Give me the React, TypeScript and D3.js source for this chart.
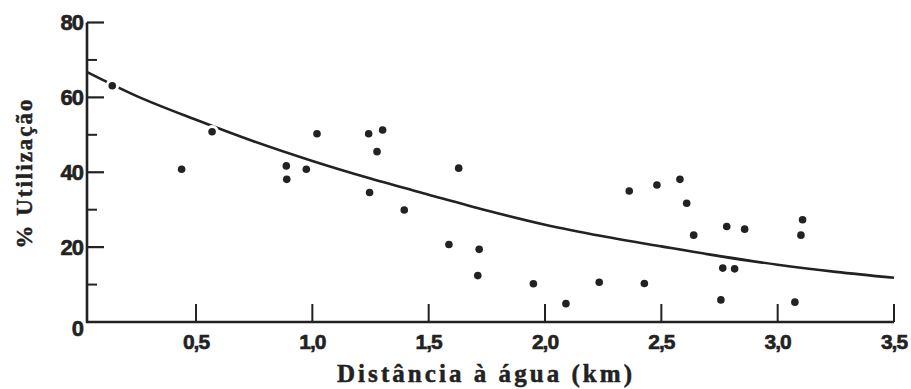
import React from "react";
import * as d3 from "d3";

// Scatter observations: distance to water (km) and % utilisation
const pointX = [
  0.14, 0.438, 0.569, 0.888, 0.89, 0.974, 1.02, 1.242, 1.302, 1.278, 1.246, 1.395,
  1.629, 1.587, 1.717, 1.711, 1.95, 2.09, 2.233, 2.427, 2.362, 2.481, 2.58, 2.609,
  2.639, 2.781, 2.858, 2.764, 2.815, 2.756, 3.074, 3.107, 3.1,
];
const pointY = [
  63.1, 40.8, 50.8, 41.7, 38.1, 40.8, 50.3, 50.3, 51.3, 45.5, 34.6, 29.9,
  41.1, 20.7, 19.4, 12.4, 10.2, 4.9, 10.6, 10.3, 35.0, 36.6, 38.1, 31.7,
  23.2, 25.5, 24.8, 14.4, 14.2, 5.9, 5.3, 27.3, 23.2,
];

// Fitted curve
const curveX = [0.03, 0.25, 0.5, 0.75, 1.0, 1.25, 1.5, 1.75, 2.0, 2.25, 2.5, 2.75, 3.0, 3.25, 3.5];
const curveY = [66.8, 60.2, 54.0, 48.2, 43.0, 38.3, 34.0, 29.8, 26.0, 22.9, 20.2, 17.6, 15.3, 13.4, 11.8];

const xTicks = [0.5, 1.0, 1.5, 2.0, 2.5, 3.0, 3.5];
const xTickLabels = ["0,5", "1,0", "1,5", "2,0", "2,5", "3,0", "3,5"];
const yMajorTicks = [0, 20, 40, 60, 80];
const yMinorTicks = [10, 30, 50, 70];

const xTitle = "Distância à água (km)";
const yTitle = "% Utilização";

const W = 911;
const H = 389;
const INK = "#222";

export default function App() {
  const x = d3.scaleLinear().domain([0, 3.5]).range([79.7, 894]);
  const y = d3.scaleLinear().domain([0, 80]).range([322, 22.5]);
  const axisX = 87;
  const axisY = y(0);

  const curveData = curveX.map((v, i) => [v, curveY[i]] as [number, number]);
  const line = d3
    .line<[number, number]>()
    .x((d) => x(d[0]))
    .y((d) => y(d[1]))
    .curve(d3.curveCatmullRom.alpha(0.5));

  const labelFont = "'Liberation Sans', Arial, sans-serif";
  const titleFont = "'Liberation Serif', 'Times New Roman', serif";

  return (
    <svg
      width={W}
      height={H}
      viewBox={`0 0 ${W} ${H}`}
      style={{ position: "absolute", left: 0, top: 0, background: "#fff" }}
    >
      <rect x={0} y={0} width={W} height={H} fill="#fff" />
      {/* axes */}
      <line x1={axisX} y1={y(80)} x2={axisX} y2={axisY + 1} stroke={INK} strokeWidth={2.6} />
      <line x1={axisX - 1} y1={axisY} x2={x(3.5)} y2={axisY} stroke={INK} strokeWidth={2.6} />

      {/* y ticks */}
      {yMajorTicks.map((t) => (
        <g key={"ym" + t}>
          {t > 0 && (
            <line x1={axisX} x2={axisX + 17} y1={y(t)} y2={y(t)} stroke={INK} strokeWidth={2.2} />
          )}
          <text
            x={83}
            y={t === 0 ? y(t) + 6 : y(t)}
            dy="0.36em"
            textAnchor="end"
            fontFamily={labelFont}
            fontWeight="bold"
            fontSize={22}
            letterSpacing={-1}
            fill={INK}
            stroke={INK}
            strokeWidth={0.6}
          >
            {t}
          </text>
        </g>
      ))}
      {yMinorTicks.map((t) => (
        <line key={"yn" + t} x1={axisX} x2={axisX + 10} y1={y(t)} y2={y(t)} stroke={INK} strokeWidth={2} />
      ))}

      {/* x ticks */}
      {xTicks.map((t, i) => (
        <g key={"x" + t}>
          <line x1={x(t)} x2={x(t)} y1={axisY} y2={axisY - 18} stroke={INK} strokeWidth={2} />
          <text
            x={x(t)}
            y={349}
            textAnchor="middle"
            fontFamily={labelFont}
            fontWeight="bold"
            fontSize={21}
            letterSpacing={-1}
            fill={INK}
            stroke={INK}
            strokeWidth={0.6}
          >
            {xTickLabels[i]}
          </text>
        </g>
      ))}

      {/* fitted curve */}
      <path d={line(curveData) || ""} fill="none" stroke={INK} strokeWidth={2.6} />

      {/* points with white halo that breaks the curve */}
      {pointX.map((v, i) => (
        <circle
          key={"p" + i}
          cx={x(v)}
          cy={y(pointY[i])}
          r={3.8}
          fill={INK}
          stroke="#fff"
          strokeWidth={6}
          paintOrder="stroke"
        />
      ))}

      {/* titles */}
      <text
        x={337}
        y={382}
        textLength={295}
        lengthAdjust="spacing"
        fontFamily={titleFont}
        fontWeight="bold"
        fontSize={25}
        fill={INK}
        stroke={INK}
        strokeWidth={0.5}
      >
        {xTitle}
      </text>
      <text
        transform={`translate(32, 173) rotate(-90)`}
        textAnchor="middle"
        fontFamily={titleFont}
        fontWeight="bold"
        fontSize={23}
        letterSpacing={2}
        fill={INK}
        stroke={INK}
        strokeWidth={0.5}
      >
        {yTitle}
      </text>
    </svg>
  );
}
